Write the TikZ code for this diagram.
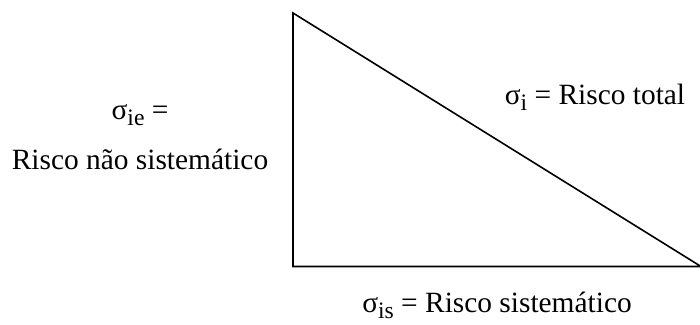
\documentclass[tikz,border=0pt]{standalone}
\usepackage{fontspec}
\setmainfont{Liberation Serif}
\usepackage{tikz}
\usetikzlibrary{positioning}
\newcommand{\sgsub}[1]{\raisebox{-0.4ex}{\fontsize{11.8}{12}\selectfont #1}}

\begin{document}
\begin{tikzpicture}[x=0.5pt, y=-0.5pt, every node/.style={font=\fontsize{14.7}{17}\selectfont, inner sep=0pt, anchor=base}, side/.style={line width=0.8pt, line join=miter}]
		\useasboundingbox (0,0) rectangle (700,325);
		\coordinate (top) at (293,13);
		\coordinate (corner) at (293,266.5);
		\coordinate (right) at (701,266.5);
		\draw[side] (top)--(corner)--(right)--cycle;
		\node (sigie) at (140,120) {σ\sgsub{ie} =};
		\node (naosist) at (140,170) {Risco não sistemático};
		\node (total) at (595,105) {σ\sgsub{i} = Risco total};
		\node (sist) at (497,313) {σ\sgsub{is} = Risco sistemático};
	\end{tikzpicture}
\end{document}
